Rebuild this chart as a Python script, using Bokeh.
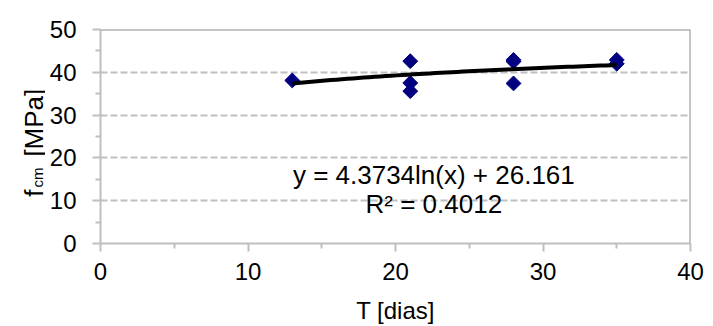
import math
from bokeh.plotting import figure
from bokeh.layouts import row
from bokeh.models import Range1d, FixedTicker, Label, Span
from bokeh.embed import file_html
from bokeh.resources import INLINE

# data
t_days = [13, 21, 21, 21, 28, 28, 28, 35, 35]
fcm = [38.1, 42.6, 37.5, 35.6, 42.9, 42.5, 37.4, 42.9, 42.0]

# logarithmic trendline as printed on the chart
trend_a = 4.3734
trend_b = 26.161
trend_r2 = 0.4012

x_ticks = [0, 10, 20, 30, 40]
x_minor = [5, 15, 25, 35]
y_ticks = [0, 10, 20, 30, 40, 50]
y_minor = [5, 15, 25, 35, 45]

x_title = "T [dias]"
y_title_main = "f"
y_title_sub = "cm"
y_title_unit = "[MPa]"

FONT = "Liberation Sans"
H = 326
LW = 45  # width of the strip holding the y title

# ---- strip with the y-axis title (f_cm [MPa]); its frame aligns with the chart frame ----
q = figure(width=LW, height=H, output_backend="svg", toolbar_location=None,
           x_range=Range1d(0, LW), y_range=Range1d(0, 50),
           x_axis_location=None, y_axis_location=None,
           min_border=0, min_border_left=0, min_border_right=0,
           min_border_top=0, min_border_bottom=0)
q.outline_line_color = None
q.grid.visible = False
q.add_layout(Label(x=33, y=10.9, text=y_title_main, angle=math.pi / 2, text_font=FONT,
                   text_font_size="26px", text_align="left",
                   text_baseline="alphabetic", text_color="black"))
q.add_layout(Label(x=37, y=13.1, text=y_title_sub, angle=math.pi / 2, text_font=FONT,
                   text_font_size="15px", text_align="left",
                   text_baseline="alphabetic", text_color="black"))
q.add_layout(Label(x=33, y=20.3, text=y_title_unit, angle=math.pi / 2, text_font=FONT,
                   text_font_size="26px", text_align="left",
                   text_baseline="alphabetic", text_color="black"))

# ---- main chart ----
p = figure(width=713 - LW, height=H, output_backend="svg", toolbar_location=None,
           x_range=Range1d(0, 40), y_range=Range1d(0, 50),
           min_border_left=100 - LW, min_border_right=23, min_border_top=29, min_border_bottom=83)
p.outline_line_color = None
p.background_fill_color = "white"
p.border_fill_color = "white"

p.xgrid.grid_line_color = None
p.ygrid.ticker = FixedTicker(ticks=y_ticks[1:-1])
p.ygrid.grid_line_color = "#C0C0C0"
p.ygrid.grid_line_width = 2
p.ygrid.grid_line_dash = "7 3"

for ax, ticks, minor in ((p.xaxis[0], x_ticks, x_minor), (p.yaxis[0], y_ticks, y_minor)):
    ax.ticker = FixedTicker(ticks=ticks, minor_ticks=minor)
    ax.axis_line_color = "#BFBFBF"
    ax.axis_line_width = 2
    ax.major_tick_line_color = "#BFBFBF"
    ax.major_tick_line_width = 2
    ax.minor_tick_line_color = "#BFBFBF"
    ax.minor_tick_line_width = 2
    ax.major_tick_in = 0
    ax.major_tick_out = 8
    ax.minor_tick_in = 0
    ax.minor_tick_out = 5
    ax.major_label_text_font = FONT
    ax.major_label_text_font_size = "24px"
    ax.major_label_text_color = "black"

p.xaxis.major_label_standoff = 11
p.yaxis.major_label_standoff = 16

p.xaxis.axis_label = x_title
p.xaxis.axis_label_text_font = FONT
p.xaxis.axis_label_text_font_size = "24px"
p.xaxis.axis_label_text_font_style = "normal"
p.xaxis.axis_label_text_color = "black"
p.xaxis.axis_label_standoff = 14

# top and right frame border
p.add_layout(Span(location=50, dimension="width", line_color="#8C8C8C", line_width=2))
p.add_layout(Span(location=40, dimension="height", line_color="#8C8C8C", line_width=2))

# points
p.scatter(t_days, fcm, marker="square", size=10.5, angle=math.pi / 4,
          fill_color="#000080", line_color="#000080")

# trendline
n = 60
x0, x1 = min(t_days), max(t_days)
tx = [x0 + (x1 - x0) * i / (n - 1) for i in range(n)]
ty = [trend_a * math.log(v) + trend_b for v in tx]
p.line(tx, ty, line_color="black", line_width=4)

# equation
p.add_layout(Label(x=22.6, y=16.0, text=f"y = {trend_a}ln(x) + {trend_b}",
                   text_font=FONT, text_font_size="26px", text_align="center",
                   text_baseline="alphabetic", text_color="black"))
p.add_layout(Label(x=22.6, y=9.2, text=f"R² = {trend_r2}",
                   text_font=FONT, text_font_size="26px", text_align="center",
                   text_baseline="alphabetic", text_color="black"))

layout = row(q, p, spacing=0)
open("out.html", "w").write(file_html(layout, INLINE))
